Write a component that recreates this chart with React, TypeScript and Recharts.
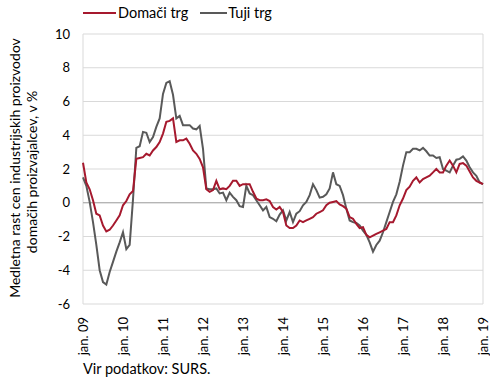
import React from 'react';
import { LineChart, Line, XAxis, YAxis, CartesianGrid, ReferenceLine } from 'recharts';

// monthly, jan. 09 - jan. 19
const domaci = [
  2.37, 1.2, 0.8, 0.15, -0.65, -0.75, -1.35, -1.7, -1.6, -1.35,
  -1.05, -0.75, -0.15, 0.1, 0.5, 0.7, 2.6, 2.65, 2.7, 2.9,
  2.8, 3.1, 3.3, 3.6, 4.1, 4.8, 4.85, 5.0, 3.6, 3.7,
  3.7, 3.8, 3.5, 3.1, 2.9, 2.6, 2.1, 0.8, 0.65, 0.75,
  1.3, 0.8, 0.85, 0.8, 1.0, 1.3, 1.3, 1.0, 1.1, 1.1,
  1.1, 0.65, 0.25, 0.15, 0.15, 0.2, 0.1, -0.25, -0.4, -0.25,
  -0.55, -1.35, -1.5, -1.5, -1.35, -1.05, -1.15, -1.05, -0.95, -0.85,
  -0.65, -0.55, -0.45, -0.15, 0.0, 0.05, 0.1, -0.1, -0.2, -0.35,
  -0.85, -0.95, -1.25, -1.5, -1.45, -1.9, -2.05, -1.95, -1.85, -1.75,
  -1.65, -1.55, -1.15, -1.15, -0.75, -0.15, 0.25, 0.75, 0.95, 1.3,
  1.5, 1.2, 1.4, 1.5, 1.6, 1.8, 2.0, 1.8, 1.8, 2.2,
  2.5, 2.2, 1.8, 2.3, 2.35, 2.2, 1.85, 1.5, 1.3, 1.2, 1.1,
];

const tuji = [
  1.5, 1.0, 0.05, -1.15, -2.5, -4.0, -4.7, -4.85, -4.1, -3.5,
  -2.9, -2.35, -1.75, -2.75, -2.5, 0.2, 3.25, 3.35, 4.2, 4.15,
  3.6, 3.9, 4.5, 5.0, 6.45, 7.1, 7.2, 6.4, 5.0, 5.15,
  4.6, 4.6, 4.6, 4.4, 4.35, 4.55, 3.2, 0.85, 0.8, 0.8,
  0.85, 0.55, 0.6, 0.15, 0.6, 0.35, 0.15, -0.2, -0.25, 1.0,
  0.55, 0.45, 0.15, -0.15, -0.45, -0.25, -0.85, -0.95, -1.1, -0.7,
  -0.45, -1.05, -0.55, -1.15, -0.65, -0.5, -0.15, 0.05, 0.45, 1.1,
  0.75, 0.3, 0.35, 0.5, 0.85, 1.8, 1.1, 1.0, 0.45, -0.35,
  -1.05, -1.15, -1.2, -1.35, -1.65, -1.9, -2.35, -2.9, -2.5, -2.25,
  -1.75, -1.15, -0.55, 0.05, 0.5, 1.25, 2.2, 3.0, 3.0, 3.2,
  3.2, 3.1, 3.25, 3.05, 2.8, 2.8, 2.65, 2.7, 2.0, 1.9,
  1.8, 2.2, 2.55, 2.6, 2.75, 2.5, 2.1, 1.8, 1.6, 1.2, 1.1,
];

const tickLabels = [
  'jan. 09', 'jan. 10', 'jan. 11', 'jan. 12', 'jan. 13', 'jan. 14',
  'jan. 15', 'jan. 16', 'jan. 17', 'jan. 18', 'jan. 19',
];

const yTicks = [-6, -4, -2, 0, 2, 4, 6, 8, 10];

const data = domaci.map((d, i) => ({ month: i, domaci: d, tuji: tuji[i] }));
const xTicks = tickLabels.map((_, i) => i * 12);

const FONT = 'Lato, "Open Sans", sans-serif';
const RED = '#a6192e';
const GRAY = '#595959';

const XTick = (props: any) => {
  const { x, y, payload } = props;
  return (
    <g transform={`translate(${x},${y})`}>
      <text transform="rotate(-90)" x={0} y={0} dy="0.35em" textAnchor="end"
        fontSize={13} fontFamily={FONT} fill="#000">
        {tickLabels[payload.value / 12]}
      </text>
    </g>
  );
};

const YLabel = () => (
  <g fontSize={14} fontFamily={FONT} fill="#000">
    <text transform="translate(20,168) rotate(-90)" textAnchor="middle">
      Medletna rast cen industrijskih proizvodov
    </text>
    <text transform="translate(37,172) rotate(-90)" textAnchor="middle">
      domačih proizvajalcev, v %
    </text>
  </g>
);

export default function App() {
  return (
    <div style={{ position: 'absolute', left: 0, top: 0, width: 490, height: 381, fontFamily: FONT }}>
      <LineChart width={490} height={381} data={data}
        margin={{ top: 34, right: 7, bottom: 0, left: 0 }}>
        <CartesianGrid vertical={false} stroke="#d9d9d9" />
        <XAxis dataKey="month" type="number" domain={[0, 120]} ticks={xTicks}
          height={77} axisLine={false} tickLine={false} tick={<XTick />}
          tickSize={0} tickMargin={13} interval={0} />
        <YAxis domain={[-6, 10]} ticks={yTicks} width={83} axisLine={false}
          tickLine={false} tickSize={0} tickMargin={13} interval={0}
          tick={{ fontSize: 13, fontFamily: FONT, fill: '#000' }}
          label={<YLabel />} />
        <ReferenceLine x={0} stroke="#d9d9d9" />
        <ReferenceLine x={120} stroke="#d9d9d9" />
        <ReferenceLine y={0} stroke="#a6a6a6" />
        <Line type="linear" dataKey="tuji" stroke={GRAY} strokeWidth={2}
          dot={false} isAnimationActive={false} />
        <Line type="linear" dataKey="domaci" stroke={RED} strokeWidth={2}
          dot={false} isAnimationActive={false} />
      </LineChart>
      <div style={{ position: 'absolute', left: 83, top: 4, display: 'flex', alignItems: 'center', fontSize: 14.5, color: '#000' }}>
        <span style={{ display: 'inline-block', width: 33, height: 2, background: RED, marginRight: 2 }} />
        <span style={{ marginRight: 12 }}>Domači trg</span>
        <span style={{ display: 'inline-block', width: 27, height: 2, background: GRAY, marginRight: 1 }} />
        <span>Tuji trg</span>
      </div>
      <div style={{ position: 'absolute', left: 83, top: 360, fontSize: 14.5, color: '#000' }}>
        Vir podatkov: SURS.
      </div>
    </div>
  );
}
